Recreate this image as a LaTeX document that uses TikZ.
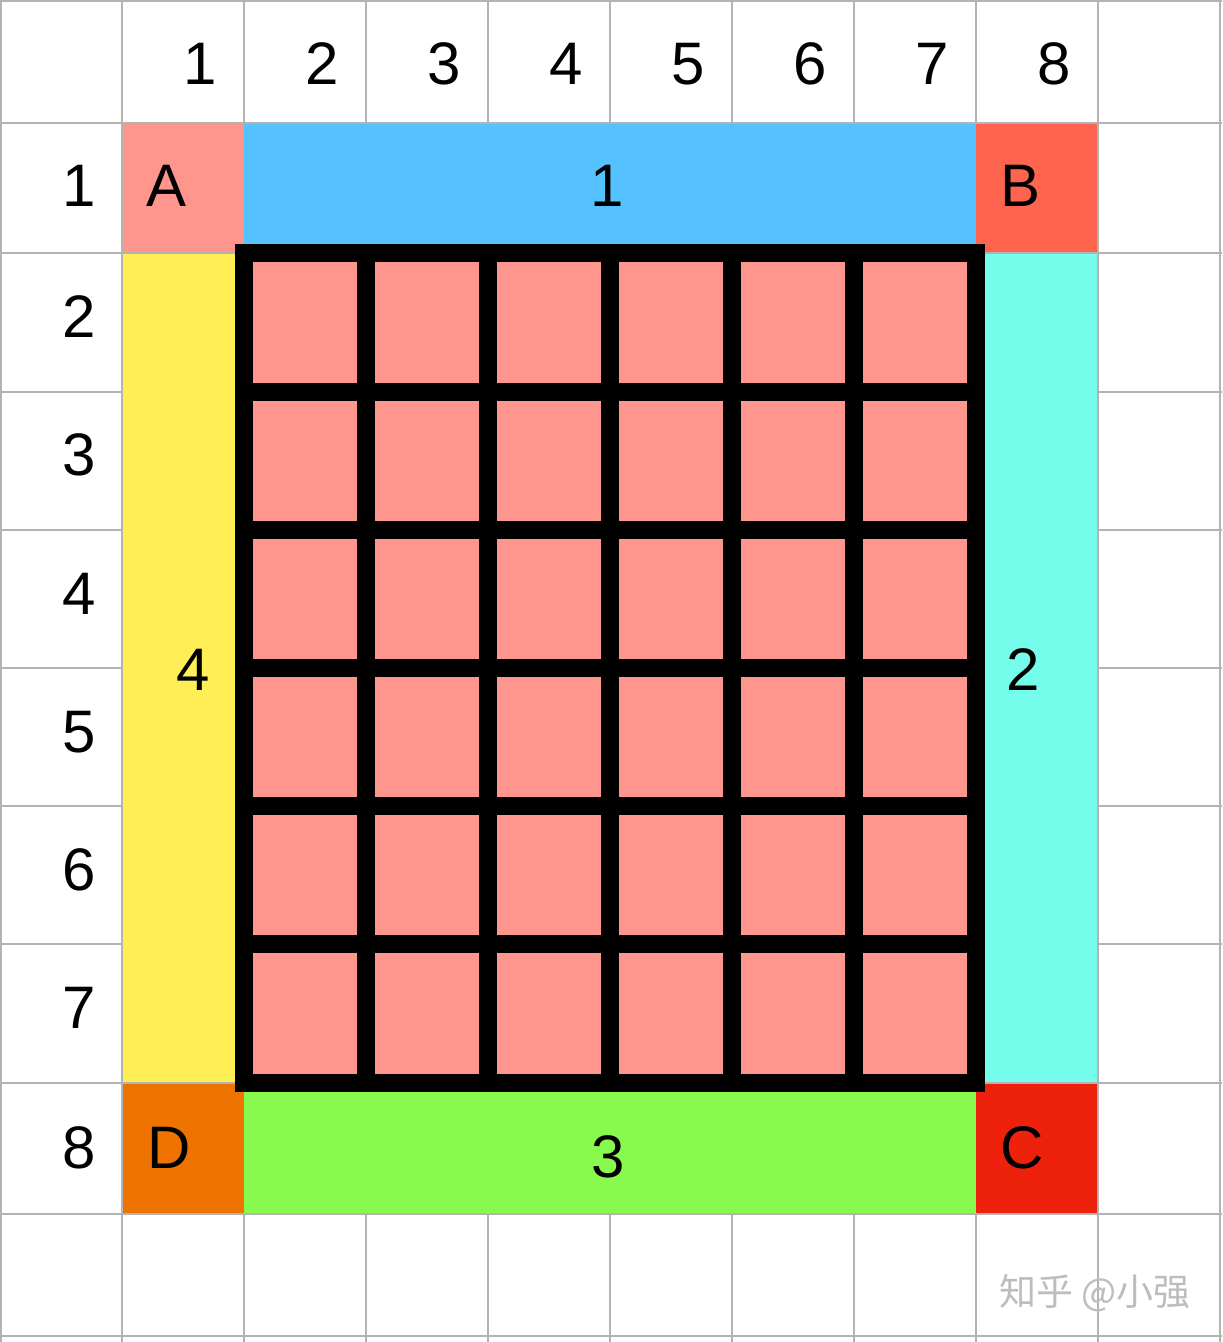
\documentclass[tikz,border=0pt]{standalone}
\usepackage{fontspec}
\setmainfont{Liberation Sans}
\newfontfamily\cjk{Noto Sans CJK SC}
\definecolor{cellpink}{HTML}{FF968D}
\definecolor{bcol}{HTML}{FF644E}
\definecolor{bluecol}{HTML}{56C1FF}
\definecolor{yellowcol}{HTML}{FFEE55}
\definecolor{cyancol}{HTML}{73FDEA}
\definecolor{dcol}{HTML}{EF7300}
\definecolor{greencol}{HTML}{88FA4E}
\definecolor{ccol}{HTML}{EE220C}
\definecolor{gridgray}{HTML}{B3B3B3}
\definecolor{wmgray}{HTML}{BDBDBD}
\tikzset{
  lbl/.style={font=\fontsize{30pt}{36pt}\selectfont, inner sep=0pt, anchor=center},
  wm/.style={font=\cjk\fontsize{18.5pt}{22pt}\selectfont, text=wmgray, inner sep=0pt},
  thin grid/.style={draw=gridgray, line width=1pt},
  thick grid/.style={draw=black, line width=9pt}
}
\begin{document}
\begin{tikzpicture}[x=0.5pt,y=-0.5pt]
\useasboundingbox (0,0) rectangle (1222,1342);
\fill[white] (0,0) rectangle (1222,1342);
% thin gray grid
\foreach \x in {1,122,244,366,488,610,732,854,976,1098,1220}
  \draw[thin grid] (\x,0) -- (\x,1342);
\foreach \y in {1,123,253,392,530,668,806,944,1083,1214,1336}
  \draw[thin grid] (0,\y) -- (1222,\y);
% coloured border regions
\fill[cellpink] (122,123) rectangle (244,253);
\fill[bluecol] (244,123) rectangle (976,253);
\fill[bcol] (976,123) rectangle (1098,253);
\fill[yellowcol] (122,253) rectangle (244,1083);
\fill[cyancol] (976,253) rectangle (1098,1083);
\fill[dcol] (122,1083) rectangle (244,1214);
\fill[greencol] (244,1083) rectangle (976,1214);
\fill[ccol] (976,1083) rectangle (1098,1214);
% gray separators between regions
\draw[thin grid] (122,123) -- (122,1214);
\draw[thin grid] (1098,123) -- (1098,1214);
\draw[thin grid] (122,123) -- (1098,123);
\draw[thin grid] (122,1214) -- (1098,1214);
\draw[thin grid] (122,253) -- (244,253);
\draw[thin grid] (976,253) -- (1098,253);
\draw[thin grid] (122,1083) -- (244,1083);
\draw[thin grid] (976,1083) -- (1098,1083);
% central pink cells
\fill[cellpink] (244,253) rectangle (976,1083);
\foreach \x in {366,488,610,732,854}
  \draw[thick grid] (\x,253) -- (\x,1083);
\foreach \y in {392,530,668,806,944}
  \draw[thick grid] (244,\y) -- (976,\y);
\draw[thick grid, line join=miter] (244,253) rectangle (976,1083);
% column headers
\node[lbl] (c1) at (200,64) {1};
\node[lbl] (c2) at (322,64) {2};
\node[lbl] (c3) at (444,64) {3};
\node[lbl] (c4) at (566,64) {4};
\node[lbl] (c5) at (688,64) {5};
\node[lbl] (c6) at (810,64) {6};
\node[lbl] (c7) at (932,64) {7};
\node[lbl] (c8) at (1054,64) {8};
% row headers
\node[lbl] (r1) at (79,186) {1};
\node[lbl] (r2) at (79,317) {2};
\node[lbl] (r3) at (79,455) {3};
\node[lbl] (r4) at (79,594) {4};
\node[lbl] (r5) at (79,732) {5};
\node[lbl] (r6) at (79,870) {6};
\node[lbl] (r7) at (79,1008) {7};
\node[lbl] (r8) at (79,1148) {8};
% region labels
\node[lbl] (la) at (167,186) {A};
\node[lbl] (lb) at (1020,186) {B};
\node[lbl] (lc) at (1022,1148) {C};
\node[lbl] (ld) at (169,1148) {D};
\node[lbl] (l1) at (607,186) {1};
\node[lbl] (l2) at (1023,670) {2};
\node[lbl] (l3) at (608,1157) {3};
\node[lbl] (l4) at (193,670) {4};
% watermark
\node[wm] (wm) at (1095,1293) {知乎 @小强};
\end{tikzpicture}
\end{document}
